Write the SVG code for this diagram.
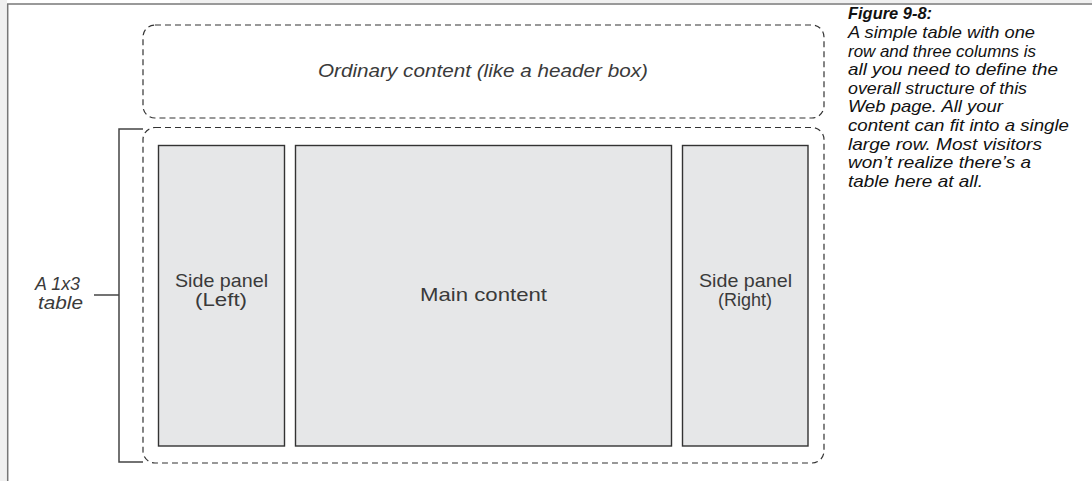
<svg xmlns="http://www.w3.org/2000/svg" width="1092" height="481" viewBox="0 0 1092 481">
<style>
.dash{fill:none;stroke:#333;stroke-width:1.2;stroke-dasharray:6 4}
.panel{fill:#e6e7e8;stroke:#333;stroke-width:1.4}
.lbl{font-family:"Liberation Sans",Arial,sans-serif;font-size:19px;fill:#3a3a3a}
.it{font-style:italic}
.cap{font-family:"Liberation Sans",Arial,sans-serif;font-size:17px;font-style:italic;fill:#111}
.conn{fill:none;stroke:#444;stroke-width:1.5}
</style>
<rect x="0" y="0" width="1092" height="481" fill="#fff"/>
<rect x="0" y="0" width="7" height="481" fill="#f0f0f0"/>
<rect x="180" y="0" width="912" height="3" fill="#f0f0f0"/>
<line x1="7" y1="4" x2="1092" y2="4" stroke="#777" stroke-width="1.5"/>
<line x1="7.7" y1="4" x2="7.7" y2="481" stroke="#777" stroke-width="1.5"/>
<g id="header-box">
<rect class="dash" x="143" y="25" width="681" height="93" rx="12"/>
<text class="lbl it" x="318" y="77" textLength="330" lengthAdjust="spacingAndGlyphs">Ordinary content (like a header box)</text>
</g>
<g id="table-box">
<rect class="dash" x="143" y="127.5" width="681" height="335.5" rx="12"/>
</g>
<g id="left-panel">
<rect class="panel" x="158.5" y="145.5" width="126" height="300.5"/>
<text class="lbl" x="175" y="287" textLength="93" lengthAdjust="spacingAndGlyphs">Side panel</text>
<text class="lbl" x="195" y="306" textLength="52" lengthAdjust="spacingAndGlyphs">(Left)</text>
</g>
<g id="main-panel">
<rect class="panel" x="295.5" y="145.5" width="376" height="300.5"/>
<text class="lbl" x="420" y="301" textLength="127" lengthAdjust="spacingAndGlyphs">Main content</text>
</g>
<g id="right-panel">
<rect class="panel" x="682.5" y="145.5" width="125.5" height="300.5"/>
<text class="lbl" x="699" y="287" textLength="93" lengthAdjust="spacingAndGlyphs">Side panel</text>
<text class="lbl" x="718" y="306" textLength="54" lengthAdjust="spacingAndGlyphs">(Right)</text>
</g>
<g id="table-label">
<text class="lbl it" x="35" y="290" textLength="45" lengthAdjust="spacingAndGlyphs">A 1x3</text>
<text class="lbl it" x="38" y="309" textLength="45" lengthAdjust="spacingAndGlyphs">table</text>
</g>
<g id="connectors">
<path class="conn" d="M143,129 H119 V462 H143"/>
<path class="conn" d="M94,295 H119"/>
</g>
<g id="caption">
<text class="cap" x="848" y="19" font-weight="bold" textLength="84" lengthAdjust="spacingAndGlyphs">Figure 9-8:</text>
<text class="cap" x="848" y="38" textLength="187" lengthAdjust="spacingAndGlyphs">A simple table with one</text>
<text class="cap" x="848" y="57" textLength="188" lengthAdjust="spacingAndGlyphs">row and three columns is</text>
<text class="cap" x="848" y="75" textLength="210" lengthAdjust="spacingAndGlyphs">all you need to define the</text>
<text class="cap" x="848" y="94" textLength="179" lengthAdjust="spacingAndGlyphs">overall structure of this</text>
<text class="cap" x="848" y="112" textLength="155" lengthAdjust="spacingAndGlyphs">Web page. All your</text>
<text class="cap" x="848" y="131" textLength="221" lengthAdjust="spacingAndGlyphs">content can fit into a single</text>
<text class="cap" x="848" y="150" textLength="194" lengthAdjust="spacingAndGlyphs">large row. Most visitors</text>
<text class="cap" x="848" y="168" textLength="183" lengthAdjust="spacingAndGlyphs">won’t realize there’s a</text>
<text class="cap" x="848" y="187" textLength="135" lengthAdjust="spacingAndGlyphs">table here at all.</text>
</g>
</svg>
